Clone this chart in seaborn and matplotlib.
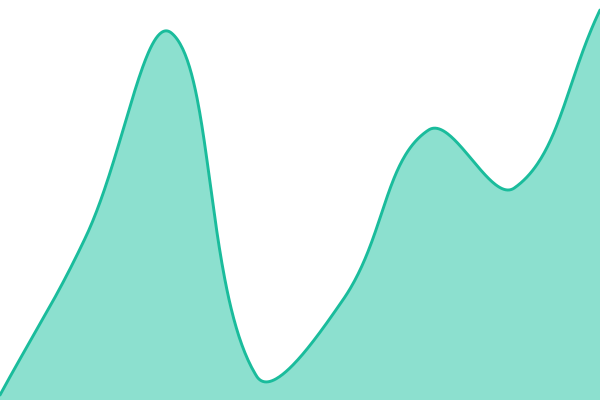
import numpy as np
import pandas as pd
import matplotlib
matplotlib.use("Agg")
import matplotlib.pyplot as plt
import seaborn as sns

# data: 8 evenly spaced samples
positions = [0, 1, 2, 3, 4, 5, 6, 7]
values = [5, 163, 367, 23, 100, 270, 212, 390]

LINE = "#1abc9c"
FILL = "#8ce0cf"
W, H = 600.0, 400.0
XMAX, YMAX = 7.0, 400.0
TENSION = 0.4


def spline_path(xs, ys, n=80):
    # Chart.js-style spline: control points from neighbour distances (pixel space)
    px = np.asarray(xs, float) * W / XMAX
    py = np.asarray(ys, float) * H / YMAX
    k = len(px)
    cp_prev = np.zeros((k, 2))
    cp_next = np.zeros((k, 2))
    for i in range(k):
        cur = np.array([px[i], py[i]])
        prv = np.array([px[max(i - 1, 0)], py[max(i - 1, 0)]])
        nxt = np.array([px[min(i + 1, k - 1)], py[min(i + 1, k - 1)]])
        d01 = np.hypot(*(cur - prv))
        d12 = np.hypot(*(nxt - cur))
        s01 = d01 / (d01 + d12) if d01 + d12 else 0
        s12 = d12 / (d01 + d12) if d01 + d12 else 0
        cp_prev[i] = cur - TENSION * s01 * (nxt - prv)
        cp_next[i] = cur + TENSION * s12 * (nxt - prv)
    cp_prev[:, 0] = np.clip(cp_prev[:, 0], 0, W)
    cp_prev[:, 1] = np.clip(cp_prev[:, 1], 0, H)
    cp_next[:, 0] = np.clip(cp_next[:, 0], 0, W)
    cp_next[:, 1] = np.clip(cp_next[:, 1], 0, H)
    ox, oy = [], []
    for i in range(k - 1):
        t = np.linspace(0, 1, n, endpoint=(i == k - 2))[:, None]
        p0 = np.array([px[i], py[i]])
        p1 = cp_next[i]
        p2 = cp_prev[i + 1]
        p3 = np.array([px[i + 1], py[i + 1]])
        b = (1 - t) ** 3 * p0 + 3 * (1 - t) ** 2 * t * p1 + 3 * (1 - t) * t**2 * p2 + t**3 * p3
        ox.append(b[:, 0])
        oy.append(b[:, 1])
    return np.concatenate(ox) * XMAX / W, np.concatenate(oy) * YMAX / H


sx, sy = spline_path(positions, values)
df = pd.DataFrame({"x": sx, "y": sy})

sns.set_theme(style="white")
fig = plt.figure(figsize=(6, 4), dpi=100)
ax = fig.add_axes([0, 0, 1, 1])
ax.fill_between(df["x"], 0, df["y"], color=FILL, linewidth=0)
sns.lineplot(data=df, x="x", y="y", ax=ax, color=LINE, linewidth=2.1, sort=False)
ax.set_xlim(0, XMAX)
ax.set_ylim(0, YMAX)
ax.axis("off")
fig.savefig("out.png", dpi=100)
